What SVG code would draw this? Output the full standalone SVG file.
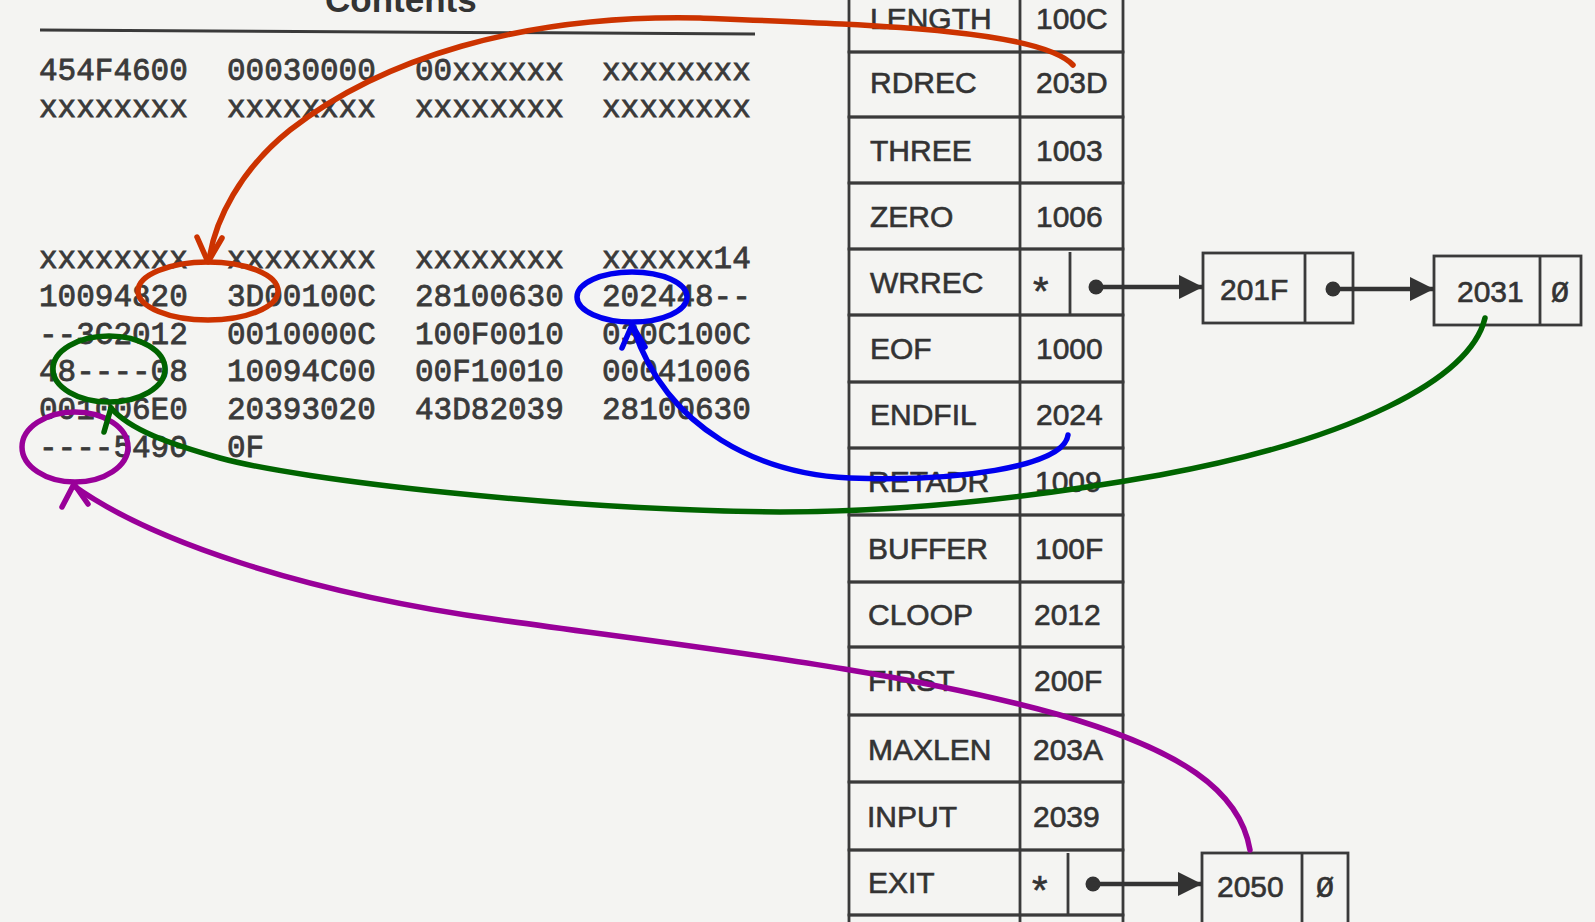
<svg xmlns="http://www.w3.org/2000/svg" width="1595" height="922" viewBox="0 0 1595 922">
<style>
.cell{fill:none;stroke:#3a3a3a;stroke-width:2.8}
.sym{font-family:"Liberation Sans",Arial,sans-serif;font-size:30px;fill:#333;stroke:#333;stroke-width:0.6}
.mem{font-family:"Liberation Mono","Courier New",monospace;font-size:31px;fill:#3a3a3a;stroke:#3a3a3a;stroke-width:0.8}
.mono{font-family:"Liberation Mono","DejaVu Sans Mono",monospace;font-size:30px;fill:#333;stroke:#333;stroke-width:0.6}
.ptr{stroke:#333;stroke-width:4.5;fill:none}
.dot{fill:#333}
.ann{fill:none;stroke-width:5.5;stroke-linecap:round;stroke-linejoin:round}
.red{stroke:#cc3300}.blue{stroke:#0000ee}.green{stroke:#006400}.purple{stroke:#990099}
</style>
<defs>
<marker id="head" markerUnits="userSpaceOnUse" markerWidth="26" markerHeight="26" refX="24" refY="12" orient="auto">
<path d="M0,0 L24,12 L0,24 z" fill="#333"/>
</marker>
</defs>
<rect x="0" y="0" width="1595" height="922" fill="#f4f4f2"/>

<g id="memory-contents">
<text x="325" y="12" style="font-family:'Liberation Sans',Arial,sans-serif;font-weight:bold;font-size:35px;fill:#333">Contents</text>
<line x1="40" y1="30" x2="755" y2="34" stroke="#3a3a3a" stroke-width="3"/>
<text class="mem" y="80"><tspan x="39">454F4600</tspan><tspan x="227">00030000</tspan><tspan x="415">00xxxxxx</tspan><tspan x="602">xxxxxxxx</tspan></text>
<text class="mem" y="117"><tspan x="39">xxxxxxxx</tspan><tspan x="227">xxxxxxxx</tspan><tspan x="415">xxxxxxxx</tspan><tspan x="602">xxxxxxxx</tspan></text>
<text class="mem" y="268"><tspan x="39">xxxxxxxx</tspan><tspan x="227">xxxxxxxx</tspan><tspan x="415">xxxxxxxx</tspan><tspan x="602">xxxxxx14</tspan></text>
<text class="mem" y="306"><tspan x="39">10094820</tspan><tspan x="227">3D00100C</tspan><tspan x="415">28100630</tspan><tspan x="602">202448--</tspan></text>
<text class="mem" y="344"><tspan x="39">--3C2012</tspan><tspan x="227">0010000C</tspan><tspan x="415">100F0010</tspan><tspan x="602">030C100C</tspan></text>
<text class="mem" y="381"><tspan x="39">48----08</tspan><tspan x="227">10094C00</tspan><tspan x="415">00F10010</tspan><tspan x="602">00041006</tspan></text>
<text class="mem" y="419"><tspan x="39">001006E0</tspan><tspan x="227">20393020</tspan><tspan x="415">43D82039</tspan><tspan x="602">28100630</tspan></text>
<text class="mem" y="457"><tspan x="39">----5490</tspan><tspan x="227">0F</tspan></text>
</g>

<g id="symtab-LENGTH"><rect class="cell" x="849" y="-14" width="274" height="66"/><line class="cell" x1="1020" y1="-14" x2="1020" y2="52"/><text class="sym" x="870" y="29">LENGTH</text><text class="sym" x="1036" y="29">100C</text></g>
<g id="symtab-RDREC"><rect class="cell" x="849" y="52" width="274" height="65"/><line class="cell" x1="1020" y1="52" x2="1020" y2="117"/><text class="sym" x="870" y="93">RDREC</text><text class="sym" x="1036" y="93">203D</text></g>
<g id="symtab-THREE"><rect class="cell" x="849" y="117" width="274" height="66"/><line class="cell" x1="1020" y1="117" x2="1020" y2="183"/><text class="sym" x="870" y="161">THREE</text><text class="sym" x="1036" y="161">1003</text></g>
<g id="symtab-ZERO"><rect class="cell" x="849" y="183" width="274" height="66"/><line class="cell" x1="1020" y1="183" x2="1020" y2="249"/><text class="sym" x="870" y="227">ZERO</text><text class="sym" x="1036" y="227">1006</text></g>
<g id="symtab-WRREC"><rect class="cell" x="849" y="249" width="274" height="66"/><line class="cell" x1="1020" y1="249" x2="1020" y2="315"/><line class="cell" x1="1070" y1="252" x2="1070" y2="315"/><text class="sym" x="1033" y="305" style="font-size:40px">*</text><text class="sym" x="870" y="293">WRREC</text></g>
<g id="symtab-EOF"><rect class="cell" x="849" y="315" width="274" height="67"/><line class="cell" x1="1020" y1="315" x2="1020" y2="382"/><text class="sym" x="870" y="359">EOF</text><text class="sym" x="1036" y="359">1000</text></g>
<g id="symtab-ENDFIL"><rect class="cell" x="849" y="382" width="274" height="66"/><line class="cell" x1="1020" y1="382" x2="1020" y2="448"/><text class="sym" x="870" y="425">ENDFIL</text><text class="sym" x="1036" y="425">2024</text></g>
<g id="symtab-RETADR"><rect class="cell" x="849" y="448" width="274" height="67"/><line class="cell" x1="1020" y1="448" x2="1020" y2="515"/><text class="sym" x="868" y="492">RETADR</text><text class="sym" x="1035" y="492">1009</text></g>
<g id="symtab-BUFFER"><rect class="cell" x="849" y="515" width="274" height="67"/><line class="cell" x1="1020" y1="515" x2="1020" y2="582"/><text class="sym" x="868" y="559">BUFFER</text><text class="sym" x="1035" y="559">100F</text></g>
<g id="symtab-CLOOP"><rect class="cell" x="849" y="582" width="274" height="65"/><line class="cell" x1="1020" y1="582" x2="1020" y2="647"/><text class="sym" x="868" y="625">CLOOP</text><text class="sym" x="1034" y="625">2012</text></g>
<g id="symtab-FIRST"><rect class="cell" x="849" y="647" width="274" height="68"/><line class="cell" x1="1020" y1="647" x2="1020" y2="715"/><text class="sym" x="868" y="691">FIRST</text><text class="sym" x="1034" y="691">200F</text></g>
<g id="symtab-MAXLEN"><rect class="cell" x="849" y="715" width="274" height="67"/><line class="cell" x1="1020" y1="715" x2="1020" y2="782"/><text class="sym" x="868" y="760">MAXLEN</text><text class="sym" x="1033" y="760">203A</text></g>
<g id="symtab-INPUT"><rect class="cell" x="849" y="782" width="274" height="68"/><line class="cell" x1="1020" y1="782" x2="1020" y2="850"/><text class="sym" x="867" y="827">INPUT</text><text class="sym" x="1033" y="827">2039</text></g>
<g id="symtab-EXIT"><rect class="cell" x="849" y="850" width="274" height="65"/><line class="cell" x1="1020" y1="850" x2="1020" y2="915"/><line class="cell" x1="1068" y1="853" x2="1068" y2="915"/><text class="sym" x="868" y="893">EXIT</text><text class="sym" x="1032" y="904" style="font-size:40px">*</text></g>
<g id="symtab-next"><rect class="cell" x="849" y="915" width="274" height="40"/><line class="cell" x1="1020" y1="915" x2="1020" y2="955"/></g>

<g id="node-201F"><rect class="cell" x="1203" y="253" width="150" height="70"/><line class="cell" x1="1305" y1="253" x2="1305" y2="323"/><text class="sym" x="1220" y="300">201F</text></g>
<g id="node-2031"><rect class="cell" x="1434" y="256" width="147" height="69"/><line class="cell" x1="1540" y1="256" x2="1540" y2="325"/><text class="sym" x="1457" y="302">2031</text><text class="mono" x="1551" y="302">Ø</text></g>
<g id="node-2050"><rect class="cell" x="1202" y="853" width="146" height="80"/><line class="cell" x1="1302" y1="853" x2="1302" y2="933"/><text class="sym" x="1217" y="897">2050</text><text class="mono" x="1316" y="897">Ø</text></g>

<g id="annotations">
<ellipse class="ann red" cx="208" cy="291" rx="70" ry="29"/>
<ellipse class="ann blue" cx="632" cy="297" rx="55" ry="25"/>
<ellipse class="ann green" cx="109" cy="369" rx="56" ry="33"/>
<ellipse class="ann purple" cx="75" cy="447" rx="53" ry="35"/>
</g>

<g id="connectors">
<circle class="dot" cx="1096" cy="287" r="7.5"/>
<line class="ptr" x1="1096" y1="287" x2="1203" y2="287" marker-end="url(#head)"/>
<circle class="dot" cx="1333" cy="289" r="7.5"/>
<line class="ptr" x1="1333" y1="289" x2="1434" y2="289" marker-end="url(#head)"/>
<circle class="dot" cx="1093" cy="884" r="7.5"/>
<line class="ptr" x1="1093" y1="884" x2="1202" y2="884" marker-end="url(#head)"/>

<path class="ann red" d="M1073,65 C1040,30 880,25 700,18 C520,14 380,60 290,130 C240,170 215,220 209,260"/>
<polyline class="ann red" points="197,237 208,262 222,238"/>

<path class="ann blue" d="M1068,435 C1064,468 950,482 850,478 C760,474 668,430 634,330"/>
<polyline class="ann blue" points="622,348 632,325 645,347"/>

<path class="ann green" d="M1485,318 C1470,380 1350,440 1160,475 C1020,500 900,512 780,512 C560,510 300,480 220,458 C170,444 130,430 111,408"/>
<polyline class="ann green" points="104,432 111,408"/>

<path class="ann purple" d="M1250,850 C1240,790 1180,750 1060,715 C900,670 700,648 500,620 C300,592 150,540 74,486"/>
<polyline class="ann purple" points="62,507 74,484 88,504"/>
</g>
</svg>
